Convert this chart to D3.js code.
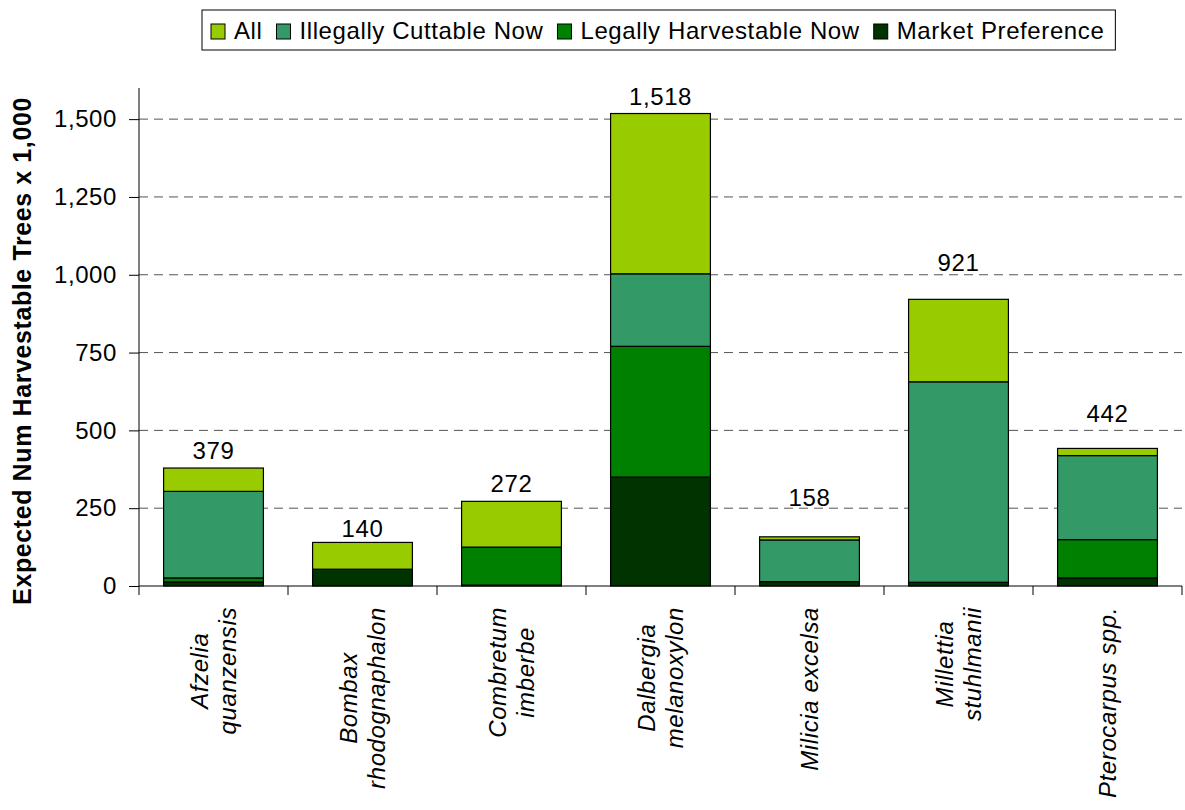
<!DOCTYPE html>
<html>
<head>
<meta charset="utf-8">
<script src="https://cdn.jsdelivr.net/npm/d3@7"></script>
<style>
  html, body { margin: 0; padding: 0; background: #fff; }
  svg { display: block; font-family: "Liberation Sans", Arial, sans-serif; }
  text { letter-spacing: 0.6px; }
</style>
</head>
<body>
<svg id="chart" width="1185" height="810"></svg>
<script>
// Species (each entry split into the lines drawn under the axis)
const species = [
  ["Afzelia", "quanzensis"],
  ["Bombax", "rhodognaphalon"],
  ["Combretum", "imberbe"],
  ["Dalbergia", "melanoxylon"],
  ["Milicia excelsa"],
  ["Millettia", "stuhlmanii"],
  ["Pterocarpus spp."]
];

// Stacked increments, thousands of trees (bottom to top)
const marketPreference   = [13, 54, 3, 350, 14, 12, 26];
const legallyHarvestable = [13, 0, 122, 420, 0, 0, 123];
const illegallyCuttable  = [278, 0, 0, 233, 134, 644, 270];
const allTrees           = [75, 86, 147, 515, 10, 265, 23];

// Totals printed above each column
const totals = [379, 140, 272, 1518, 158, 921, 442];

const seriesNames  = ["Market Preference", "Legally Harvestable Now", "Illegally Cuttable Now", "All"];
const seriesColors = ["#003300", "#008000", "#339966", "#99CC00"];
const yTicks = [0, 250, 500, 750, 1000, 1250, 1500];

// Vertical gap (px) between a column top and its total label
const labelGap = [9, 5, 9, 9, 31, 28, 26];

const FS = 24;
const svg = d3.select("#chart");
const margin = { left: 139, right: 3, top: 88, bottom: 224 };
const W = 1185, H = 810;
const plotW = W - margin.left - margin.right;
const plotH = H - margin.top - margin.bottom;

const keys = ["mp", "lh", "ic", "all"];
const rows = species.map((s, i) => ({
  idx: i,
  mp: marketPreference[i],
  lh: legallyHarvestable[i],
  ic: illegallyCuttable[i],
  all: allTrees[i],
  total: totals[i]
}));

const x = d3.scaleBand().domain(d3.range(species.length)).range([0, plotW]).padding(0);
const y = d3.scaleLinear().domain([0, 1600]).range([plotH, 0]);
const barW = x.bandwidth() * 0.67;

const g = svg.append("g").attr("transform", `translate(${margin.left},${margin.top})`);

// Dashed horizontal gridlines
g.append("g")
  .selectAll("line")
  .data(yTicks.filter(t => t > 0))
  .join("line")
  .attr("x1", 0).attr("x2", plotW)
  .attr("y1", d => y(d)).attr("y2", d => y(d))
  .attr("stroke", "#555")
  .attr("stroke-width", 1)
  .attr("stroke-dasharray", "9,6");

// Stacked columns
const stacked = d3.stack().keys(keys)(rows);
g.append("g")
  .selectAll("g")
  .data(stacked)
  .join("g")
  .attr("fill", (d, i) => seriesColors[i])
  .selectAll("rect")
  .data(d => d.filter(p => p[1] - p[0] > 0))
  .join("rect")
  .attr("x", d => x(d.data.idx) + (x.bandwidth() - barW) / 2)
  .attr("width", barW)
  .attr("y", d => y(d[1]))
  .attr("height", d => y(d[0]) - y(d[1]))
  .attr("stroke", "#000")
  .attr("stroke-width", 1.2);

// Total labels
g.append("g")
  .selectAll("text")
  .data(rows)
  .join("text")
  .attr("x", d => x(d.idx) + x.bandwidth() / 2)
  .attr("y", d => y(d.mp + d.lh + d.ic + d.all) - labelGap[d.idx])
  .attr("text-anchor", "middle")
  .attr("font-size", FS)
  .attr("fill", "#000")
  .text(d => d3.format(",")(d.total));

// Y axis
const yAxis = g.append("g")
  .call(d3.axisLeft(y).tickValues(yTicks).tickFormat(d3.format(",")).tickSize(10).tickPadding(12));
yAxis.select(".domain").attr("stroke", "#000").attr("d", `M0,${plotH}V0`);
yAxis.selectAll(".tick line").attr("stroke", "#000");
yAxis.selectAll(".tick text").attr("font-size", FS).attr("font-family", "Liberation Sans, Arial, sans-serif").attr("fill", "#000");

// X axis: baseline with ticks at category boundaries
g.append("line")
  .attr("x1", 0).attr("x2", plotW)
  .attr("y1", plotH).attr("y2", plotH)
  .attr("stroke", "#000");
g.append("g")
  .selectAll("line")
  .data(d3.range(species.length + 1))
  .join("line")
  .attr("x1", d => d < species.length ? x(d) : plotW)
  .attr("x2", d => d < species.length ? x(d) : plotW)
  .attr("y1", plotH).attr("y2", plotH + 9)
  .attr("stroke", "#000");

// Rotated italic category labels, lines centred on one another
const lineH = 28;
const labelTop = plotH + 21;
species.forEach((lines, i) => {
  const cx = x(i) + x.bandwidth() / 2;
  const grp = g.append("g");
  const texts = lines.map(t => grp.append("text")
    .attr("font-size", FS)
    .attr("font-style", "italic")
    .attr("fill", "#000")
    .attr("text-anchor", "middle")
    .text(t));
  const maxLen = d3.max(texts, t => t.node().getComputedTextLength());
  const cy = labelTop + maxLen / 2;
  const n = lines.length;
  texts.forEach((t, k) => {
    const lx = cx + (k - (n - 1) / 2) * lineH + 8;
    t.attr("transform", `translate(${lx},${cy}) rotate(-90)`);
  });
});

// Y axis title
svg.append("text")
  .attr("transform", `translate(31,${351}) rotate(-90)`)
  .attr("text-anchor", "middle")
  .attr("font-size", 25)
  .attr("font-weight", "bold")
  .attr("fill", "#000")
  .text("Expected Num Harvestable Trees x 1,000");

// Legend (order: All, Illegally, Legally, Market)
const legendOrder = [3, 2, 1, 0];
const legend = svg.append("g");
const legendBox = legend.append("rect")
  .attr("fill", "#fff")
  .attr("stroke", "#000")
  .attr("stroke-width", 1);
let lx = 211;
const ly = 32;
legendOrder.forEach(si => {
  legend.append("rect")
    .attr("x", lx).attr("y", ly - 8)
    .attr("width", 14).attr("height", 15)
    .attr("fill", seriesColors[si])
    .attr("stroke", "#000");
  const t = legend.append("text")
    .attr("x", lx + 23).attr("y", ly + 7)
    .attr("font-size", FS)
    .attr("fill", "#000")
    .text(seriesNames[si]);
  lx += 23 + t.node().getComputedTextLength() + 14;
});
legendBox.attr("x", 202).attr("y", 10).attr("width", lx - 202 - 3).attr("height", 40);
</script>
</body>
</html>
